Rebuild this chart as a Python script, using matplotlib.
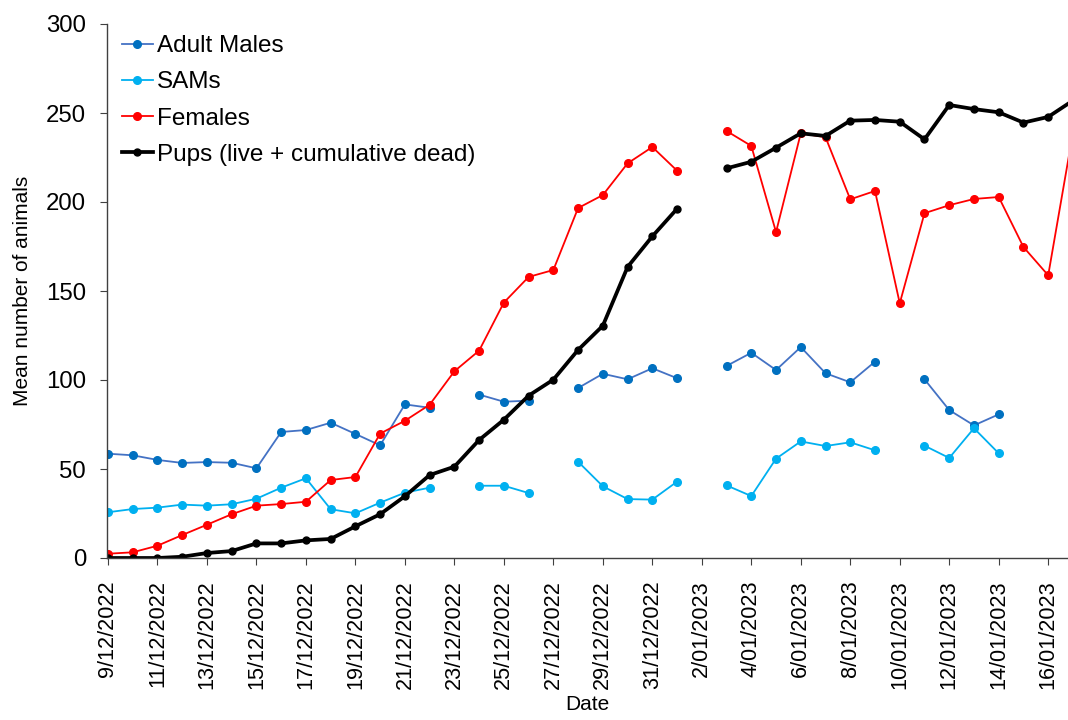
import numpy as np
import pandas as pd
import matplotlib
matplotlib.use("Agg")
import matplotlib.pyplot as plt
import matplotlib.dates as mdates
from matplotlib.ticker import FuncFormatter, MultipleLocator

plt.rcParams['font.family'] = ['Liberation Sans', 'DejaVu Sans']

nan = np.nan
dates = pd.date_range('2022-12-09', '2023-01-17', freq='D')

adult_males = [58.6, 57.7, 55.1, 53.4, 53.9, 53.5, 50.4, 70.8, 71.9, 76.0, 69.7, 63.3, 86.3, 84.4,
               nan, 91.8, 87.8, 88.4, nan, 95.5, 103.5, 100.4, 106.6, 101.0, nan,
               107.9, 115.3, 105.6, 118.5, 103.8, 98.7, 110.3, nan,
               100.4, 83.1, 74.5, 80.7, nan, nan, nan]
sams = [25.7, 27.5, 28.3, 30.0, 29.4, 30.2, 33.3, 39.5, 44.8, 27.4, 25.1, 31.1, 36.7, 39.5,
        nan, 40.6, 40.6, 36.5, nan, 54.1, 40.3, 33.1, 32.8, 42.9, nan,
        40.8, 34.8, 55.8, 65.5, 62.9, 65.0, 60.5, nan,
        63.1, 56.2, 72.9, 58.8, nan, nan, nan]
females = [2.4, 3.2, 6.9, 12.9, 18.7, 24.6, 29.4, 30.3, 31.6, 43.8, 45.5, 69.9, 77.1, 86.1,
           104.9, 116.5, 143.5, 157.9, 161.8, 196.6, 203.9, 221.7, 230.9, 217.6, nan,
           239.9, 231.5, 183.1, 238.6, 236.4, 201.5, 206.2, 143.1, 193.7, 198.2, 201.7, 202.8,
           174.7, 158.8, 239.0]
pups = [0, 0, 0, 0.7, 2.8, 3.9, 8.2, 8.2, 9.9, 10.7, 17.8, 24.6, 34.7, 46.6,
        51.3, 66.3, 77.7, 91.2, 100.2, 116.9, 130.5, 163.5, 180.7, 196.2, nan,
        218.9, 222.6, 230.5, 238.6, 237.1, 245.7, 246.1, 245.1, 235.2, 254.5, 252.2, 250.4,
        244.6, 247.8, 257.0]


def date_label(v, pos):
    d = mdates.num2date(v)
    return f"{d.day}/{d.month:02d}/{d.year}"


fig = plt.figure(figsize=(10.68, 7.2), dpi=100)
ax = fig.add_axes([107 / 1068, 1 - 558 / 720, 961 / 1068, 534 / 720])

ax.plot(dates, adult_males, color='#4472C4', lw=1.3, marker='o', ms=5.5,
        mfc='#0070C0', mec='#0070C0', label='Adult Males')
ax.plot(dates, sams, color='#00B0F0', lw=1.3, marker='o', ms=5.5,
        mfc='#00B0F0', mec='#00B0F0', label='SAMs')
ax.plot(dates, females, color='#FF0000', lw=1.3, marker='o', ms=5.5,
        mfc='#FF0000', mec='#FF0000', label='Females')
ax.plot(dates, pups, color='black', lw=2.7, marker='o', ms=5,
        label='Pups (live + cumulative dead)')

x0 = mdates.date2num(dates[0])
ax.set_xlim(x0 - 0.04, x0 + 38.8)
ax.set_ylim(0, 300)
ax.yaxis.set_major_locator(MultipleLocator(50))
ax.set_xticks(mdates.date2num(dates[::2]))
ax.xaxis.set_major_formatter(FuncFormatter(date_label))

for s in ['top', 'right']:
    ax.spines[s].set_visible(False)
for s in ['left', 'bottom']:
    ax.spines[s].set_color('#404040')
    ax.spines[s].set_linewidth(1.0)
ax.tick_params(axis='y', labelsize=17.3, length=5, color='#404040', pad=10)
ax.tick_params(axis='x', labelsize=15.6, length=5, color='#404040', rotation=90, pad=11)

ax.set_ylabel('Mean number of animals', fontsize=15, labelpad=10)
ax.set_xlabel('Date', fontsize=15, labelpad=4)

ax.legend(loc='upper left', bbox_to_anchor=(0.005, 0.997), frameon=False, fontsize=17.5,
          handlelength=1.3, handletextpad=0.15, labelspacing=0.58, borderaxespad=0)

fig.savefig('out.png', dpi=100)
